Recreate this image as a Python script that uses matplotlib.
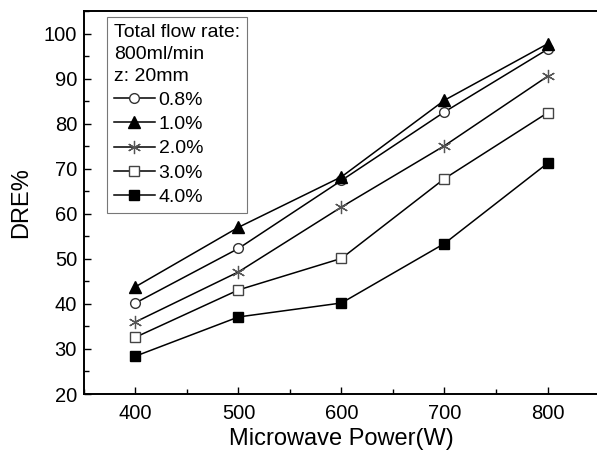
import matplotlib.pyplot as plt
from matplotlib.ticker import MultipleLocator

plt.rcParams['font.family'] = ['Liberation Sans', 'DejaVu Sans']

# Data
power = [400, 500, 600, 700, 800]
dre_08 = [40.2, 52.3, 67.4, 82.6, 96.5]
dre_10 = [43.8, 57.0, 68.2, 85.2, 97.7]
dre_20 = [36.0, 47.1, 61.5, 75.1, 90.5]
dre_30 = [32.6, 43.1, 50.1, 67.8, 82.4]
dre_40 = [28.4, 37.1, 40.2, 53.4, 71.2]

labels = ['0.8%', '1.0%', '2.0%', '3.0%', '4.0%']

fig = plt.figure(figsize=(5.97, 4.51), dpi=100)
ax = fig.add_axes([84 / 597, 1 - 394 / 451, 515 / 597, 383 / 451])

series = [dre_08, dre_10, dre_20, dre_30, dre_40]
styles = [
    dict(marker='o', markerfacecolor='white', markeredgecolor='#333333', markersize=7),
    dict(marker='^', markerfacecolor='black', markeredgecolor='black', markersize=8),
    dict(marker=(6, 2, 0), markerfacecolor='none', markeredgecolor='#555555', markersize=9.5, markeredgewidth=0.9),
    dict(marker='s', markerfacecolor='white', markeredgecolor='#444444', markersize=6.5),
    dict(marker='s', markerfacecolor='black', markeredgecolor='black', markersize=6.5),
]
for vals, lab, st in zip(series, labels, styles):
    ax.plot(power, vals, color='black', linewidth=1.1, label=lab, **st)

ax.set_xlim(350, 850)
ax.set_ylim(20, 105)
ax.xaxis.set_major_locator(MultipleLocator(100))
ax.xaxis.set_minor_locator(MultipleLocator(50))
ax.yaxis.set_major_locator(MultipleLocator(10))
ax.yaxis.set_minor_locator(MultipleLocator(5))
ax.tick_params(which='both', direction='in', labelsize=14.5, width=1.0)
ax.tick_params(which='major', length=5)
ax.tick_params(which='minor', length=3.5)
ax.tick_params(axis='x', pad=7)
ax.tick_params(axis='y', pad=5)

for side in ['left', 'bottom', 'top']:
    ax.spines[side].set_linewidth(1.4)
ax.spines['right'].set_visible(False)

ax.set_xlabel('Microwave Power(W)', fontsize=17, labelpad=4)
ax.set_ylabel('DRE%', fontsize=17, labelpad=8)

leg = ax.legend(title='Total flow rate:\n800ml/min\nz: 20mm', loc='upper left',
                bbox_to_anchor=(107 / 597, 1 - 17 / 451), bbox_transform=fig.transFigure,
                borderaxespad=0, fontsize=14, title_fontsize=14, handlelength=2.1,
                handletextpad=0.2, labelspacing=0.34, borderpad=0.35,
                fancybox=False, edgecolor='#777777', framealpha=1)
leg._legend_box.align = 'left'
leg.get_title().set_linespacing(1.38)
leg.get_frame().set_linewidth(0.8)

fig.savefig('out.png', dpi=100)
